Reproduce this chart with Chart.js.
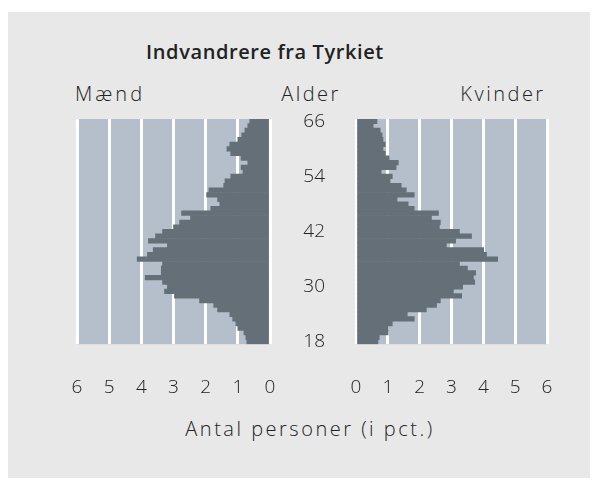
<!DOCTYPE html>
<html>
<head>
<meta charset="utf-8">
<script src="https://cdn.jsdelivr.net/npm/chart.js@4/dist/chart.umd.min.js"></script>
<style>
  body { margin: 0; background: #fff; width: 598px; height: 488px; position: relative; overflow: hidden; }
  #panel { position: absolute; left: 8px; top: 12px; width: 582px; height: 466px; background: #e8e8e8; }
  .txt { position: absolute; font-family: "Open Sans", sans-serif; color: #222; white-space: nowrap;
         text-align: center; font-size: 20px; font-weight: 300; letter-spacing: 2.5px; }
  #title { left: 115px; width: 300px; top: 38px; font-weight: 600; letter-spacing: 0.6px; }
  #maend { left: 50px; width: 120px; top: 80px; letter-spacing: 3px; }
  #alder { left: 251px; width: 120px; top: 80px; }
  #kvinder { left: 443px; width: 120px; top: 80px; }
  #xtitle { left: 160px; width: 300px; top: 415px; }
  #leftBox { position: absolute; left: 67px; top: 107px; width: 213px; height: 292px; }
  #rightBox { position: absolute; left: 270px; top: 107px; width: 287px; height: 292px; }
</style>
</head>
<body>
<div id="panel"></div>
<div class="txt" id="title">Indvandrere fra Tyrkiet</div>
<div class="txt" id="maend">Mænd</div>
<div class="txt" id="alder">Alder</div>
<div class="txt" id="kvinder">Kvinder</div>
<div class="txt" id="xtitle">Antal personer (i pct.)</div>
<div id="leftBox"><canvas id="menChart"></canvas></div>
<div id="rightBox"><canvas id="womenChart"></canvas></div>
<script>
// ages 18..66
let ages = [];
for (let a = 18; a <= 66; a++) ages.push(a);

let men = [0.72, 0.75, 0.81, 1.0, 1.06, 1.16, 1.25, 1.63, 1.75, 2.19,
           2.97, 3.28, 3.19, 3.34, 3.88, 3.38, 3.38, 3.34, 4.13, 3.81,
           3.63, 3.19, 3.78, 3.56, 3.34, 3.0, 2.81, 2.47, 2.75, 1.84,
           1.56, 1.63, 1.97, 1.9, 1.44, 1.4, 1.22, 0.84, 0.9, 0.69,
           0.9, 1.22, 1.34, 1.25, 1.0, 0.88, 0.78, 0.69, 0.63];

let women = [0.69, 0.73, 1.01, 1.01, 1.14, 1.83, 1.61, 2.21, 2.53, 2.65,
             3.32, 3.06, 3.35, 3.73, 3.69, 3.76, 3.5, 3.25, 4.45, 4.1,
             4.01, 2.84, 3.13, 3.63, 3.25, 2.62, 2.65, 2.37, 2.59, 1.83,
             1.64, 1.29, 1.83, 1.58, 1.42, 1.07, 1.14, 0.79, 1.26, 1.33,
             1.04, 0.92, 0.85, 0.92, 0.85, 0.82, 0.76, 0.54, 0.66];

let pctTicks = [0, 1, 2, 3, 4, 5, 6];

const barColor = "#646f78";
const plotBg = "#b5bfcb";
const clear = "rgba(0,0,0,0)";
const tickFont = { family: "'Open Sans', sans-serif", size: 19, weight: 300 };

// fills the plot area before the grid and bars are drawn
const plotBackground = {
    id: "plotBackground",
    beforeDraw(chart) {
        const { ctx, chartArea } = chart;
        ctx.save();
        ctx.fillStyle = plotBg;
        ctx.fillRect(chartArea.left, chartArea.top, chartArea.width, chartArea.height);
        ctx.restore();
    }
};

function makeChart(id, values, isMen) {
    let yAxis = {
        reverse: true,
        display: !isMen,
        grid: { display: true, color: clear, drawOnChartArea: false, drawTicks: true, tickLength: 31, tickColor: clear },
        border: { display: false },
        ticks: {
            autoSkip: false,
            color: "#222",
            font: tickFont,
            padding: 0,
            callback: function (val, i) {
                const age = ages[i];
                return (age - 18) % 12 === 0 ? String(age) : "";
            }
        }
    };
    if (!isMen) yAxis.afterFit = (scale) => { scale.width = 86; };

    return new Chart(document.getElementById(id).getContext("2d"), {
        type: "bar",
        data: {
            labels: ages,
            datasets: [{
                data: values,
                backgroundColor: barColor,
                borderWidth: 0,
                barPercentage: 1,
                categoryPercentage: 1
            }]
        },
        options: {
            indexAxis: "y",
            responsive: true,
            maintainAspectRatio: false,
            animation: false,
            layout: { padding: { left: isMen ? 10 : 0, right: 10, top: 12, bottom: 0 } },
            plugins: { legend: { display: false }, tooltip: { enabled: false } },
            scales: {
                x: {
                    type: "linear",
                    min: 0,
                    max: 6,
                    reverse: isMen,
                    afterBuildTicks: (scale) => { scale.ticks = pctTicks.map(v => ({ value: v })); },
                    grid: { color: "#ffffff", lineWidth: 3, drawTicks: true, tickLength: 32, tickColor: clear },
                    border: { display: false },
                    ticks: { color: "#222", font: tickFont, padding: 0 }
                },
                y: yAxis
            }
        },
        plugins: [plotBackground]
    });
}

makeChart("menChart", men, true);
makeChart("womenChart", women, false);
</script>
</body>
</html>
